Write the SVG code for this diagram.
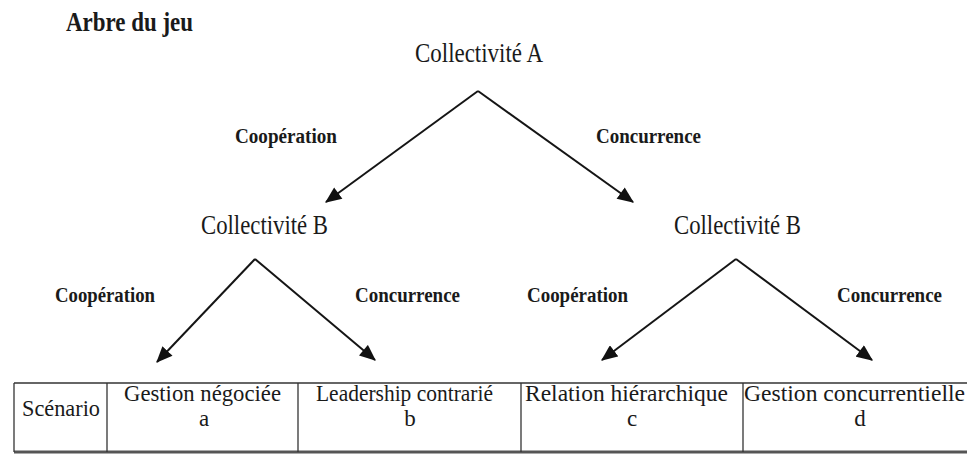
<svg xmlns="http://www.w3.org/2000/svg" width="967" height="454" viewBox="0 0 967 454">
<style>
text{font-family:'Liberation Serif','Times New Roman','DejaVu Serif',serif;fill:#1a1a1a}
.b{font-weight:bold}
.edge{stroke:#151515;stroke-width:2;fill:none;marker-end:url(#ah)}
.grid{stroke:#333;stroke-width:1.3}
</style>
<defs>
<marker id="ah" viewBox="0 0 14 12" refX="13" refY="6" markerWidth="17" markerHeight="14" orient="auto" markerUnits="userSpaceOnUse">
<path d="M0,0 L14,6 L0,12 Z" fill="#111"/>
</marker>
</defs>
<rect width="967" height="454" fill="#ffffff"/>
<text class="b" x="66" y="31" font-size="27" textLength="127" lengthAdjust="spacingAndGlyphs">Arbre du jeu</text>

<g id="connectors">
<line class="edge" x1="478" y1="91" x2="326" y2="202"/>
<line class="edge" x1="478" y1="91" x2="633" y2="202"/>
<line class="edge" x1="255" y1="259" x2="157" y2="362"/>
<line class="edge" x1="255" y1="259" x2="375" y2="360"/>
<line class="edge" x1="736" y1="259" x2="602" y2="360"/>
<line class="edge" x1="736" y1="259" x2="872" y2="360"/>
</g>

<g id="edge-labels">
<text class="b" x="235" y="143" font-size="20" textLength="102" lengthAdjust="spacingAndGlyphs">Coopération</text>
<text class="b" x="596" y="143" font-size="20" textLength="105" lengthAdjust="spacingAndGlyphs">Concurrence</text>
<text class="b" x="55" y="302" font-size="20" textLength="100" lengthAdjust="spacingAndGlyphs">Coopération</text>
<text class="b" x="355" y="302" font-size="20" textLength="105" lengthAdjust="spacingAndGlyphs">Concurrence</text>
<text class="b" x="527" y="302" font-size="20" textLength="101" lengthAdjust="spacingAndGlyphs">Coopération</text>
<text class="b" x="837" y="302" font-size="20" textLength="105" lengthAdjust="spacingAndGlyphs">Concurrence</text>
</g>

<g id="nodeA">
<text x="415" y="62" font-size="27" textLength="128" lengthAdjust="spacingAndGlyphs">Collectivité A</text>
</g>
<g id="nodeB1">
<text x="201" y="234" font-size="27" textLength="127" lengthAdjust="spacingAndGlyphs">Collectivité B</text>
</g>
<g id="nodeB2">
<text x="674" y="234" font-size="27" textLength="127" lengthAdjust="spacingAndGlyphs">Collectivité B</text>
</g>

<g id="table">
<line class="grid" x1="14" y1="383" x2="967" y2="383"/>
<line x1="14" y1="452" x2="967" y2="452" stroke="#555" stroke-width="3"/>
<line class="grid" x1="14" y1="383" x2="14" y2="452"/>
<line class="grid" x1="107" y1="383" x2="107" y2="452"/>
<line class="grid" x1="298" y1="383" x2="298" y2="452"/>
<line class="grid" x1="521" y1="383" x2="521" y2="452"/>
<line class="grid" x1="743" y1="383" x2="743" y2="452"/>
<text x="22" y="416" font-size="23" textLength="78" lengthAdjust="spacingAndGlyphs">Scénario</text>
</g>
<g id="scenario-a">
<text x="124" y="401" font-size="23" textLength="157" lengthAdjust="spacingAndGlyphs">Gestion négociée</text>
<text x="204" y="426" font-size="23" text-anchor="middle">a</text>
</g>
<g id="scenario-b">
<text x="316" y="401" font-size="23" textLength="177" lengthAdjust="spacingAndGlyphs">Leadership contrarié</text>
<text x="410" y="426" font-size="23" text-anchor="middle">b</text>
</g>
<g id="scenario-c">
<text x="525" y="401" font-size="23" textLength="203" lengthAdjust="spacingAndGlyphs">Relation hiérarchique</text>
<text x="632" y="426" font-size="23" text-anchor="middle">c</text>
</g>
<g id="scenario-d">
<text x="744" y="401" font-size="23" textLength="221" lengthAdjust="spacingAndGlyphs">Gestion concurrentielle</text>
<text x="860" y="426" font-size="23" text-anchor="middle">d</text>
</g>
</svg>
